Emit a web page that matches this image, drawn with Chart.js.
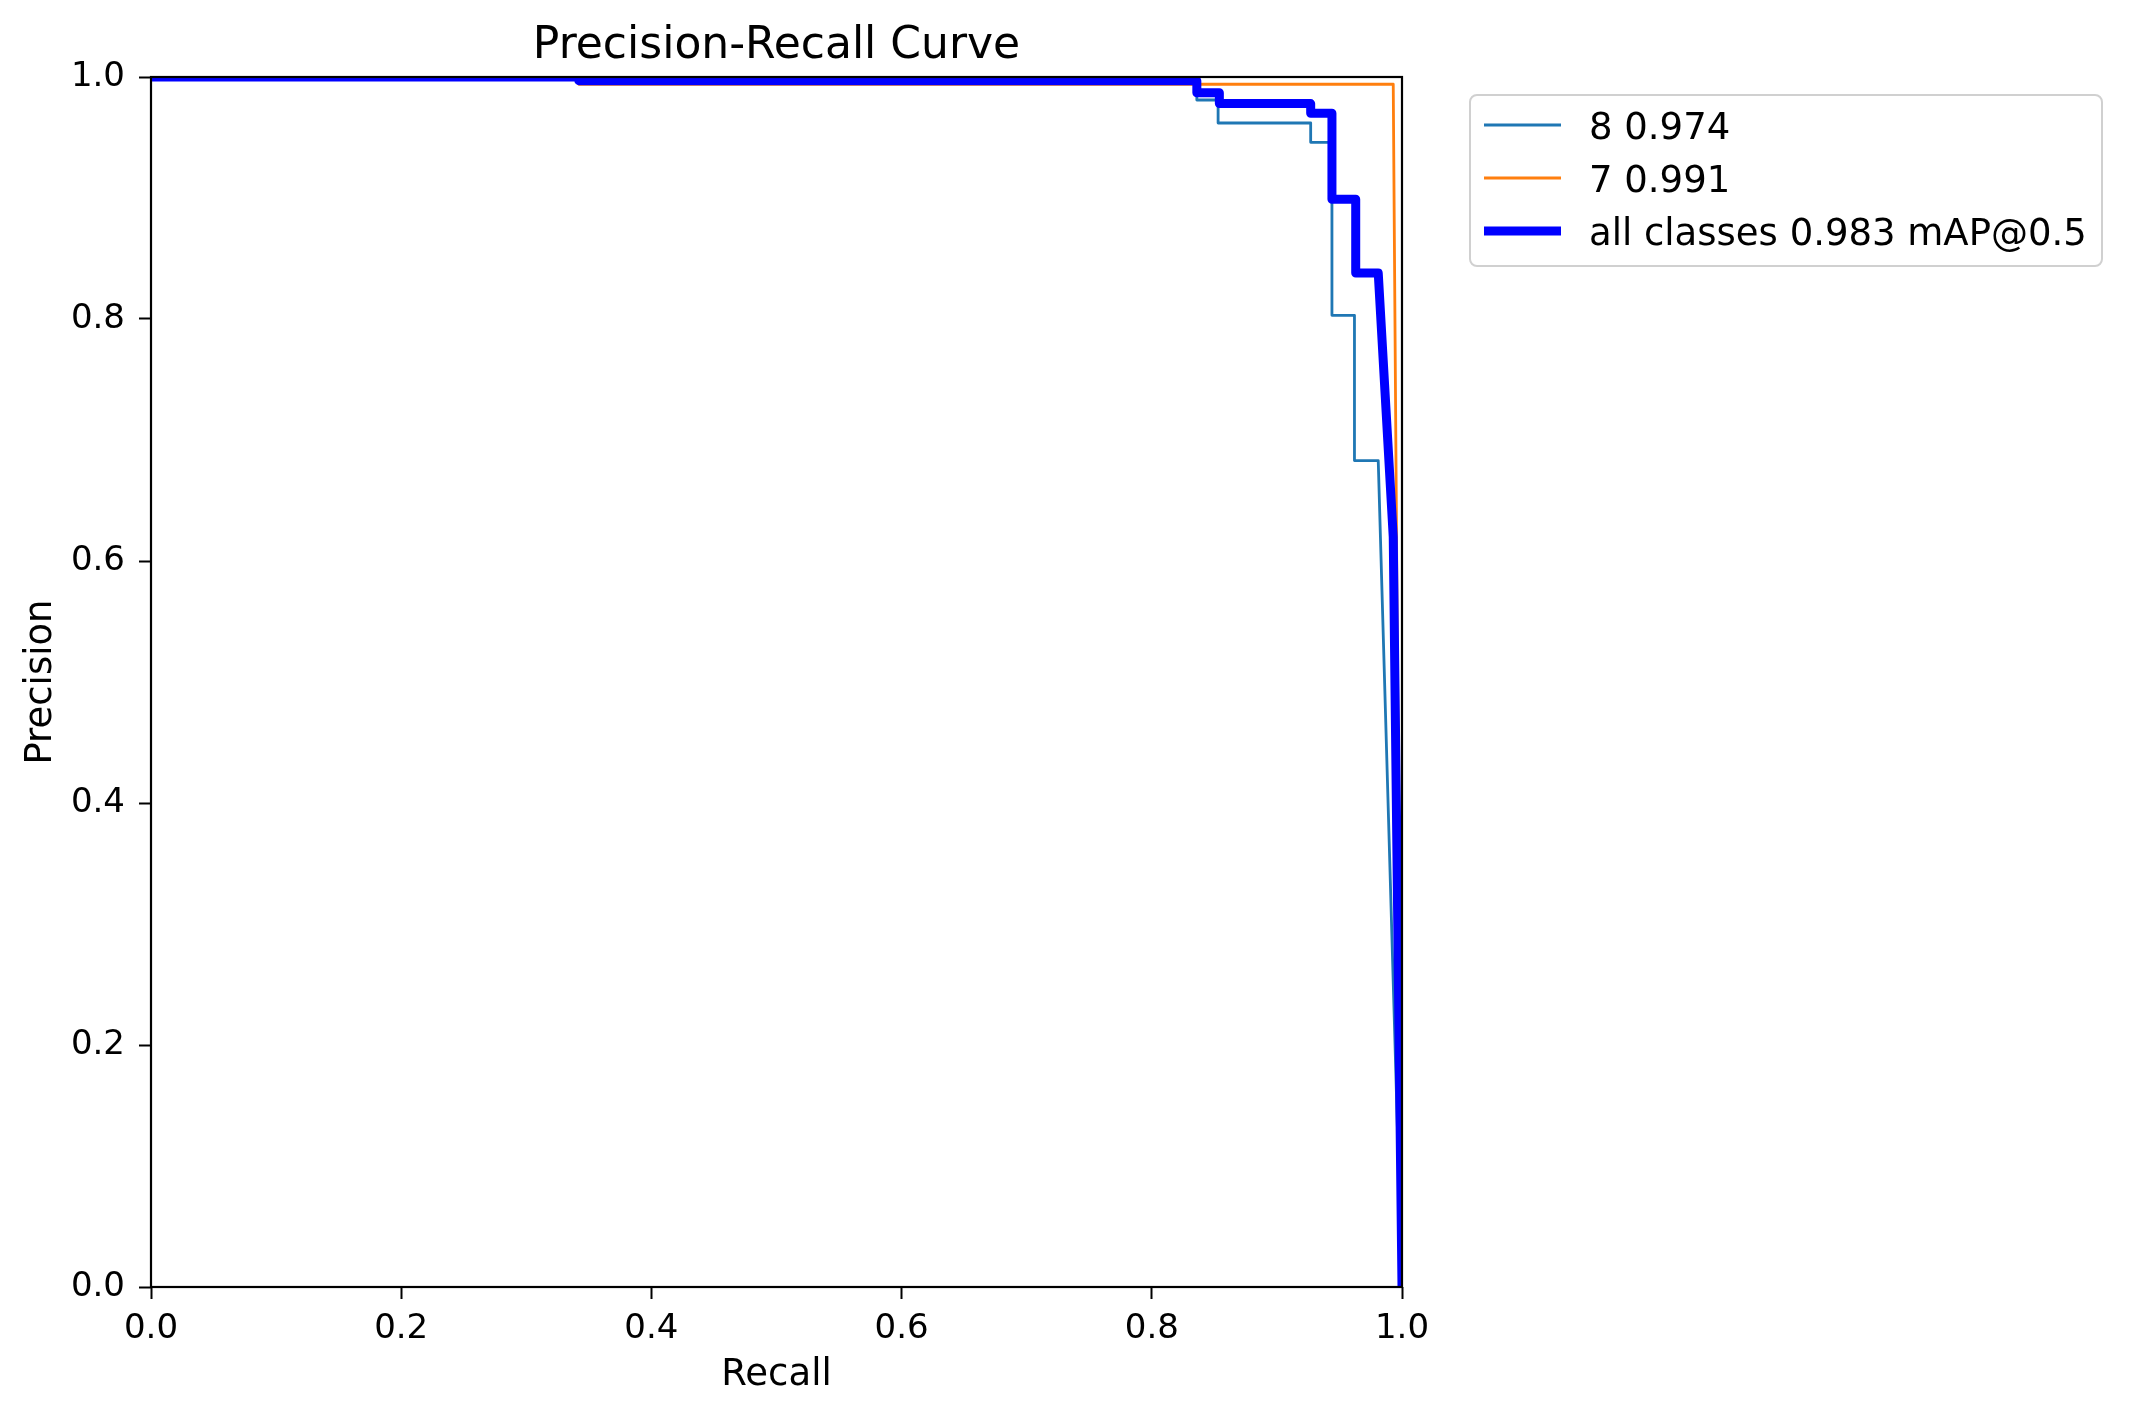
<!DOCTYPE html>
<html>
<head>
<meta charset="utf-8">
<script src="https://cdn.jsdelivr.net/npm/chart.js@4.4.1/dist/chart.umd.min.js"></script>
<style>
  html, body { margin: 0; padding: 0; background: #ffffff; }
</style>
</head>
<body>
<canvas id="prChart" width="2129" height="1408"></canvas>
<script>
// Precision-recall points, one pair of arrays per class
const recall8 = [0, 0.836, 0.836, 0.853, 0.853, 0.927, 0.927, 0.944, 0.944, 0.962, 0.962, 0.981, 1.0];
const precision8 = [1, 1, 0.981, 0.981, 0.962, 0.962, 0.946, 0.946, 0.803, 0.803, 0.683, 0.683, 0];

const recall7 = [0, 0.342, 0.342, 0.993, 1.0];
const precision7 = [1, 1, 0.994, 0.994, 0];

const recallAll = [0, 0.342, 0.342, 0.836, 0.836, 0.854, 0.854, 0.927, 0.927, 0.944, 0.944, 0.963, 0.963, 0.981, 0.993, 1.0];
const precisionAll = [1, 1, 0.997, 0.997, 0.987, 0.987, 0.978, 0.978, 0.970, 0.970, 0.899, 0.899, 0.838, 0.838, 0.62, 0];

const seriesLabels = ['8 0.974', '7 0.991', 'all classes 0.983 mAP@0.5'];
const tickValues = [0.0, 0.2, 0.4, 0.6, 0.8, 1.0];

const FONT = '"DejaVu Sans", "Liberation Sans", sans-serif';

function toPoints(xs, ys) {
    return xs.map((x, i) => ({ x: x, y: ys[i] }));
}

// title, top/right spines and the legend box, drawn the matplotlib way
const decorations = {
    id: 'decorations',
    afterDatasetsDraw(chart) {
        const { ctx, chartArea: a } = chart;
        ctx.save();
        ctx.strokeStyle = '#000';
        ctx.lineWidth = 2.2;
        ctx.strokeRect(a.left, a.top, a.right - a.left, a.bottom - a.top);
        ctx.restore();
    },
    afterDraw(chart) {
        const { ctx, chartArea: a } = chart;
        ctx.save();
        ctx.fillStyle = '#000';
        ctx.font = '44px ' + FONT;
        ctx.textAlign = 'center';
        ctx.textBaseline = 'alphabetic';
        ctx.fillText('Precision-Recall Curve', (a.left + a.right) / 2, 58);

        // legend
        const bx = 1470, by = 95, bw = 632, bh = 171, r = 7;
        ctx.beginPath();
        ctx.roundRect(bx, by, bw, bh, r);
        ctx.fillStyle = 'rgba(255,255,255,0.9)';
        ctx.fill();
        ctx.strokeStyle = '#d0d0d0';
        ctx.lineWidth = 2;
        ctx.stroke();

        const rows = [125, 178, 231];
        ctx.font = '37px ' + FONT;
        ctx.textAlign = 'left';
        chart.data.datasets.forEach((ds, i) => {
            const y = rows[i];
            ctx.beginPath();
            ctx.moveTo(1484, y);
            ctx.lineTo(1561, y);
            ctx.strokeStyle = ds.borderColor;
            ctx.lineWidth = ds.borderWidth;
            ctx.lineCap = 'butt';
            ctx.stroke();
            ctx.fillStyle = '#000';
            ctx.fillText(ds.label, 1589, y + 14);
        });
        ctx.restore();
    }
};

function createPRChart() {
    const ctx = document.getElementById('prChart').getContext('2d');

    const axisCommon = {
        type: 'linear',
        min: 0,
        max: 1,
        border: { display: false },
        grid: {
            display: true,
            drawOnChartArea: false,
            drawTicks: true,
            tickLength: 12,
            tickWidth: 2,
            tickColor: '#000'
        }
    };

    new Chart(ctx, {
        type: 'line',
        data: {
            datasets: [
                {
                    label: seriesLabels[0],
                    data: toPoints(recall8, precision8),
                    borderColor: '#1f77b4',
                    borderWidth: 2.8,
                    order: 3
                },
                {
                    label: seriesLabels[1],
                    data: toPoints(recall7, precision7),
                    borderColor: '#ff7f0e',
                    borderWidth: 2.8,
                    order: 2
                },
                {
                    label: seriesLabels[2],
                    data: toPoints(recallAll, precisionAll),
                    borderColor: '#0000ff',
                    borderWidth: 9,
                    order: 1
                }
            ]
        },
        options: {
            responsive: false,
            animation: false,
            devicePixelRatio: 1,
            layout: { padding: { top: 77, right: 727, bottom: 0, left: 0 } },
            elements: {
                point: { radius: 0, hoverRadius: 0 },
                line: { tension: 0, fill: false, borderJoinStyle: 'round', borderCapStyle: 'butt' }
            },
            datasets: { line: { clip: 0 } },
            scales: {
                x: Object.assign({}, axisCommon, {
                    position: 'bottom',
                    afterFit: s => { s.height = 121; },
                    afterBuildTicks: s => { s.ticks = tickValues.map(v => ({ value: v })); },
                    ticks: {
                        color: '#000',
                        font: { family: FONT, size: 34 },
                        padding: 10,
                        maxRotation: 0,
                        callback: v => Number(v).toFixed(1)
                    },
                    title: {
                        display: true,
                        text: 'Recall',
                        color: '#000',
                        font: { family: FONT, size: 37 },
                        padding: { top: 0, bottom: 10 }
                    }
                }),
                y: Object.assign({}, axisCommon, {
                    position: 'left',
                    afterFit: s => { s.width = 151; },
                    afterBuildTicks: s => { s.ticks = tickValues.map(v => ({ value: v })); },
                    ticks: {
                        color: '#000',
                        font: { family: FONT, size: 34 },
                        padding: 14,
                        callback: v => Number(v).toFixed(1)
                    },
                    title: {
                        display: true,
                        text: 'Precision',
                        color: '#000',
                        font: { family: FONT, size: 37 },
                        padding: { top: 19, bottom: 0 }
                    }
                })
            },
            plugins: {
                legend: { display: false },
                title: { display: false },
                tooltip: { enabled: false }
            }
        },
        plugins: [decorations]
    });
}

createPRChart();
</script>
</body>
</html>
